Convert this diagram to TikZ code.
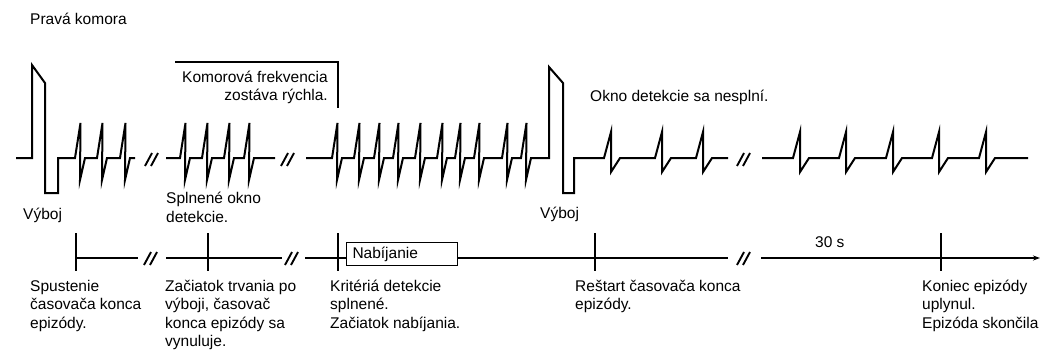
\documentclass[tikz,border=0pt]{standalone}
\usepackage{fontspec}
\setmainfont{Liberation Sans}
\usetikzlibrary{arrows.meta}
\begin{document}
\begin{tikzpicture}[x=1pt,y=-1pt,
  wave/.style={line width=2pt},
  slash/.style={line width=1.9pt},
  tl/.style={line width=1.2pt},
  brk/.style={line width=1.2pt},
  lbl/.style={inner sep=0pt, align=left, anchor=base west, font=\fontsize{15.5}{18.5}\selectfont},
  lblr/.style={inner sep=0pt, align=right, anchor=base east, font=\fontsize{15.5}{18.5}\selectfont},
  chbox/.style={draw, fill=white, line width=1pt, anchor=north west, minimum width=111pt, minimum height=23pt, inner xsep=6pt, inner ysep=0pt, text width=99pt, align=left, font=\fontsize{15.5}{18.5}\selectfont}]
\useasboundingbox (0,0) rectangle (1040,353);
\fill[white] (0,0) rectangle (1040,353);

% ---- waveform ----
\draw[wave] (16,158) -- (32,158) -- (32,65) -- (45,83) -- (45,193) -- (58,193) -- (58,158)
  foreach \x in {80,102,125} { -- (\x-5,158) -- (\x+0.5,123) -- (\x,180) -- (\x+5,158) } -- (135,158);
\draw[wave] (166,158)
  foreach \x in {185,207,229,249} { -- (\x-5,158) -- (\x+0.5,123) -- (\x,180) -- (\x+5,158) } -- (275,158);
\draw[wave] (306,158)
  foreach \x in {337,359,379,398,420,442,460,479,507,526} { -- (\x-5,158) -- (\x+0.5,123) -- (\x,180) -- (\x+5,158) }
  -- (549,158) -- (549,67) -- (563,83) -- (563,193) -- (574,193) -- (574,158)
  foreach \x in {611,662,703} { -- (\x-7,158) -- (\x,132) -- (\x,172) -- (\x+9,158) } -- (728,158);
\draw[wave] (762,158)
  foreach \x in {800,846,893,939,986} { -- (\x-7,158) -- (\x,132) -- (\x,172) -- (\x+9,158) } -- (1028,158);

% break marks on waveform
\foreach \a in {145,281,737} {
  \draw[slash] (\a,166) -- (\a+7,153) (\a+6,166) -- (\a+13,153);
}

% bracket
\draw[brk] (175,62) -- (338,62) -- (338,108);

% ---- timeline ----
\draw[tl] (76,258) -- (138,258);
\draw[tl] (166,258) -- (282,258);
\draw[tl] (305,258) -- (728,258);
\draw[tl,-{Stealth[length=7pt,width=5pt]}] (761,258) -- (1040,258);
\foreach \a in {144,285,737} {
  \draw[slash] (\a,265) -- (\a+7,252) (\a+6,265) -- (\a+13,252);
}
\foreach \t in {76,208,338,595,941} {
  \draw[tl] (\t,233) -- (\t,271);
}
\node[chbox] (nab) at (346,242) {Nabíjanie};

% ---- labels (base anchor = baseline of last line) ----
\node[lbl] (pk) at (30,25) {Pravá komora};
\node[lbl] (vy1) at (23,219) {Výboj};
\node[lbl] (spl) at (166,222) {Splnené okno\\detekcie.};
\node[lblr] (kf) at (328,100.5) {Komorová frekvencia\\zostáva rýchla.};
\node[lbl] (vy2) at (540,218) {Výboj};
\node[lbl] (okn) at (590,101) {Okno detekcie sa nesplní.};
\node[lbl] (ts) at (815,247) {30 s};
\node[lbl] (l1) at (30,328) {Spustenie\\časovača konca\\epizódy.};
\node[lbl] (l2) at (165,346.5) {Začiatok trvania po\\výboji, časovač\\konca epizódy sa\\vynuluje.};
\node[lbl] (l3) at (330,328) {Kritériá detekcie\\splnené.\\Začiatok nabíjania.};
\node[lbl] (l4) at (575,309.5) {Reštart časovača konca\\epizódy.};
\node[lbl] (l5) at (922,328) {Koniec epizódy\\uplynul.\\Epizóda skončila};
\end{tikzpicture}
\end{document}
